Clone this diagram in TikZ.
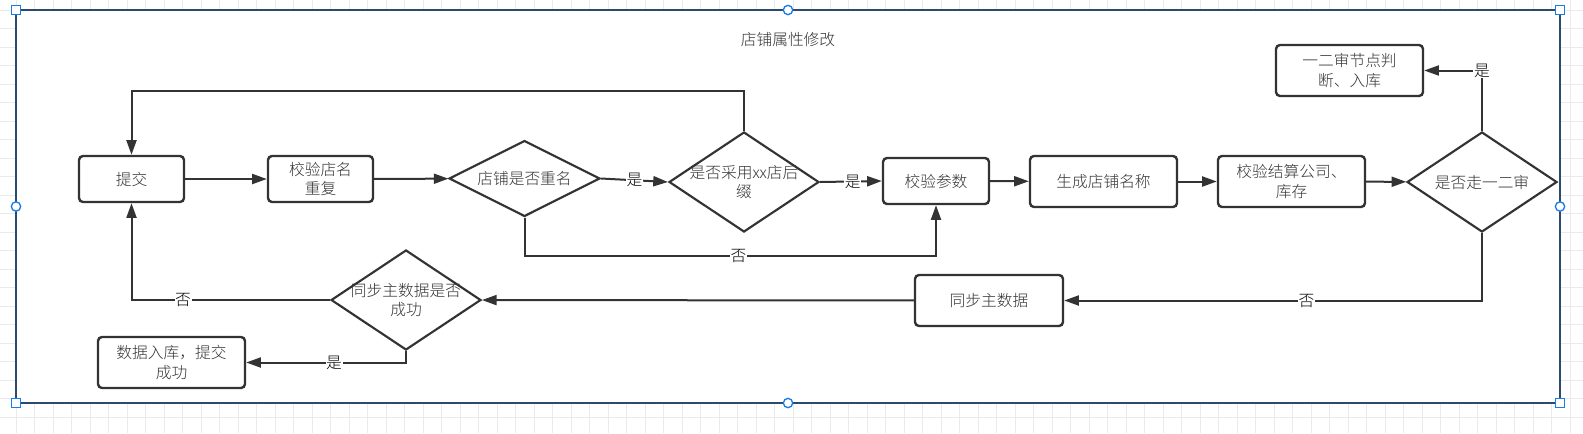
\documentclass[tikz,border=0pt]{standalone}
\usepackage{fontspec}
\setmainfont{Noto Sans CJK SC}[UprightFont=* Light]
\usetikzlibrary{shapes.geometric,arrows.meta}

\definecolor{ink}{RGB}{51,51,51}
\definecolor{framecol}{RGB}{44,74,108}
\definecolor{handlecol}{RGB}{26,125,230}
\definecolor{gridcol}{RGB}{234,234,234}

\begin{document}
\begin{tikzpicture}[
    x=0.75pt, y=-0.75pt,
    font=\fontsize{11.8pt}{14.5pt}\selectfont,
    text=ink,
    flow/.style={draw=ink, line width=1.5pt, -{Triangle[length=11pt,width=7.5pt]}},
    procbox/.style={draw=ink, line width=1.8pt, rounded corners=3pt, fill=white, align=center, inner sep=0pt},
    decision/.style={diamond, draw=ink, line width=1.6pt, fill=white, inner sep=0pt},
    dtext/.style={align=center, inner sep=0pt},
    yesno/.style={fill=white, inner sep=0.5pt, text=black},
    handlesq/.style={draw=handlecol, line width=1pt, fill=white, minimum size=6.8pt, inner sep=0pt},
    handlecirc/.style={circle, draw=handlecol, line width=1pt, fill=white, minimum size=7pt, inner sep=0pt}
]
\useasboundingbox (0,0) rectangle (1583,433);

% Canvas grid
\foreach \gx in {-2.5,16,...,1590} \draw[gridcol, line width=0.6pt] (\gx,0) -- (\gx,433);
\foreach \gy in {-8.5,10,...,440} \draw[gridcol, line width=0.6pt] (0,\gy) -- (1583,\gy);

% Frame and its handles
\draw[framecol, line width=2pt, fill=white] (16,10) rectangle (1560,403);
\node[handlesq] (h1) at (16,10) {};
\node[handlesq] (h2) at (1560,10) {};
\node[handlesq] (h3) at (16,403) {};
\node[handlesq] (h4) at (1560,403) {};
\node[handlecirc] (h5) at (788,10) {};
\node[handlecirc] (h6) at (788,403) {};
\node[handlecirc] (h7) at (16,206.5) {};
\node[handlecirc] (h8) at (1560,206.5) {};

% Title
\node (title) at (788,40) {店铺属性修改};

% Upper row
\node[procbox, minimum width=78.75pt, minimum height=34.5pt] (submit) at (131.5,179) {提交};
\node[procbox, minimum width=78.75pt, minimum height=34.5pt] (checkname) at (320.5,179) {校验店名\\重复};
\node[decision, minimum width=113pt, minimum height=57pt] (dupname) at (524.5,178.5) {};
\node[dtext] (dupnameT) at (dupname) {店铺是否重名};
\node[decision, minimum width=112.5pt, minimum height=75pt] (suffix) at (744,182) {};
\node[dtext] (suffixT) at (suffix) {是否采用xx店后\\缀};
\node[procbox, minimum width=79.5pt, minimum height=34.5pt] (params) at (936,181) {校验参数};
\node[procbox, minimum width=110.25pt, minimum height=38.25pt] (genname) at (1103.5,181.5) {生成店铺名称};
\node[procbox, minimum width=110.25pt, minimum height=38.25pt] (settle) at (1291.5,181.5) {校验结算公司、\\库存};
\node[decision, minimum width=112.5pt, minimum height=75pt] (review) at (1482,182) {};
\node[dtext] (reviewT) at (review) {是否走一二审};
\node[procbox, minimum width=110.25pt, minimum height=38.25pt] (judge) at (1349.5,70.5) {一二审节点判\\断、入库};

% Lower row
\node[procbox, minimum width=111pt, minimum height=38.25pt] (sync) at (989,300.5) {同步主数据};
\node[decision, minimum width=112.5pt, minimum height=75pt] (syncok) at (406,300) {};
\node[dtext] (syncokT) at (syncok) {同步主数据是否\\成功};
\node[procbox, minimum width=110.25pt, minimum height=38.25pt] (store) at (171.5,362.5) {数据入库，提交\\成功};

% Connectors
\draw[flow] (submit) -- (checkname);
\draw[flow] (checkname) -- (dupname);
\draw[flow] (dupname.east) -- node[yesno] (yes1) {是} (suffix.west);
\draw[flow] (suffix.east) -- node[yesno, pos=0.53] (yes2) {是} (params.west);
\draw[flow] (suffix.north) -- ++(0,-40) -| (submit.north);
\draw[flow] (dupname.south) -- ++(0,38) -| node[yesno, pos=0.26] (no1) {否} (params.south);
\draw[flow] (params) -- (genname);
\draw[flow] (genname) -- (settle);
\draw[flow] (settle) -- (review);
\draw[flow] (review.north) |- node[yesno, pos=0.5] (yes3) {是} (judge.east);
\draw[flow] (review.south) |- node[yesno, pos=0.71] (no2) {否} (sync.east);
\draw[flow] (sync) -- (syncok);
\draw[flow] (syncok.west) -| node[yesno, pos=0.37] (no3) {否} (submit.south);
\draw[flow] (syncok.south) |- node[yesno, pos=0.725] (yes4) {是} (store.east);

\end{tikzpicture}
\end{document}
